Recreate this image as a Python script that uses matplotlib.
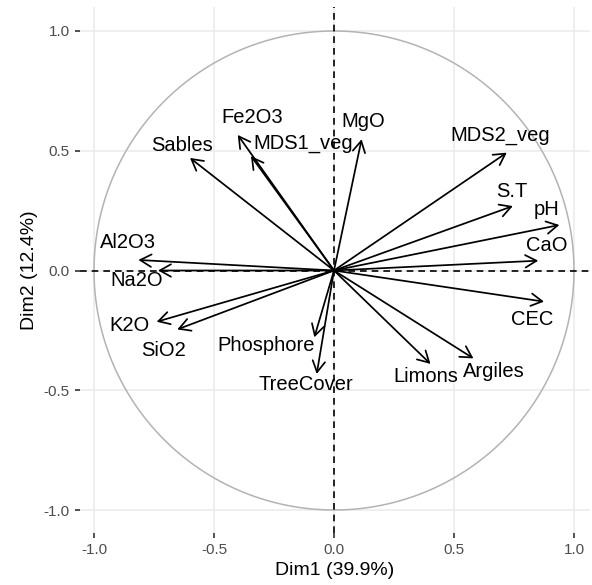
import matplotlib
matplotlib.use("Agg")
import matplotlib.pyplot as plt
import numpy as np

plt.rcParams['font.family'] = ['Liberation Sans', 'DejaVu Sans']

variables = ["Al2O3", "Na2O", "K2O", "SiO2", "Sables", "Fe2O3", "MDS1_veg", "MgO",
             "MDS2_veg", "S.T", "pH", "CaO", "CEC", "Argiles", "Limons", "TreeCover",
             "Phosphore"]
dim1 = [-0.815, -0.733, -0.739, -0.653, -0.600, -0.401, -0.346, 0.115,
        0.720, 0.745, 0.939, 0.851, 0.875, 0.581, 0.402, -0.072, -0.082]
dim2 = [0.044, 0.000, -0.214, -0.246, 0.470, 0.566, 0.478, 0.548,
        0.492, 0.269, 0.190, 0.041, -0.130, -0.367, -0.390, -0.432, -0.279]
xlabel = "Dim1 (39.9%)"
ylabel = "Dim2 (12.4%)"
ticks = [-1.0, -0.5, 0.0, 0.5, 1.0]

# label offsets in pixels (layout only)
label_offsets = {
    "Al2O3": (-10, 17), "Na2O": (-21, -10), "K2O": (-27, -4), "SiO2": (-14, -21),
    "Sables": (-8, 12), "Fe2O3": (14, 17), "MDS1_veg": (52, 13), "MgO": (2, 18),
    "MDS2_veg": (-7, 17), "S.T": (-1, 15), "pH": (-13, 15), "CaO": (9, 15),
    "CEC": (-12, -18), "Argiles": (20, -13), "Limons": (-5, -13),
    "TreeCover": (-11, -11), "Phosphore": (-48, -8),
}

W, H = 592, 585
fig = plt.figure(figsize=(W / 100, H / 100), dpi=100)
L, R, T, B = 80, 590, 7, 533
ax = fig.add_axes([L / W, 1 - B / H, (R - L) / W, (B - T) / H])
ax.set_xlim((L - 334) / 240, (R - 334) / 240)
ax.set_ylim((270.5 - B) / 239.5, (270.5 - T) / 239.5)

for s in ax.spines.values():
    s.set_visible(False)
ax.set_xticks(ticks)
ax.set_yticks(ticks)
ax.set_xticklabels([f"{t:.1f}" for t in ticks])
ax.set_yticklabels([f"{t:.1f}" for t in ticks])
ax.tick_params(axis='both', colors='#333333', labelcolor='#4d4d4d', labelsize=11,
               length=3.5, width=1.2, pad=4)
ax.grid(True, color='#ebebeb', lw=1.1)
ax.set_axisbelow(True)

theta = np.linspace(0, 2 * np.pi, 400)
ax.plot(np.cos(theta), np.sin(theta), color='#b3b3b3', lw=1.1, zorder=2)
ax.axhline(0, color='black', lw=1.2, ls=(0, (4, 3)), zorder=2)
ax.axvline(0, color='black', lw=1.2, ls=(0, (4, 3)), zorder=2)

for name, x, y in zip(variables, dim1, dim2):
    ax.annotate('', xy=(x, y), xytext=(0, 0),
                arrowprops=dict(arrowstyle='->,head_length=0.5,head_width=0.28',
                                shrinkA=0, shrinkB=0, lw=1.25, color='black',
                                mutation_scale=16), zorder=3)
    dx, dy = label_offsets[name]
    ax.annotate(name, xy=(x, y), xytext=(dx, dy), textcoords='offset pixels',
                ha='center', va='center', fontsize=14.5, color='black', zorder=4)

ax.set_xlabel(xlabel, fontsize=14, labelpad=3)
ax.set_ylabel(ylabel, fontsize=14, labelpad=4)

fig.savefig("out.png", dpi=100)
